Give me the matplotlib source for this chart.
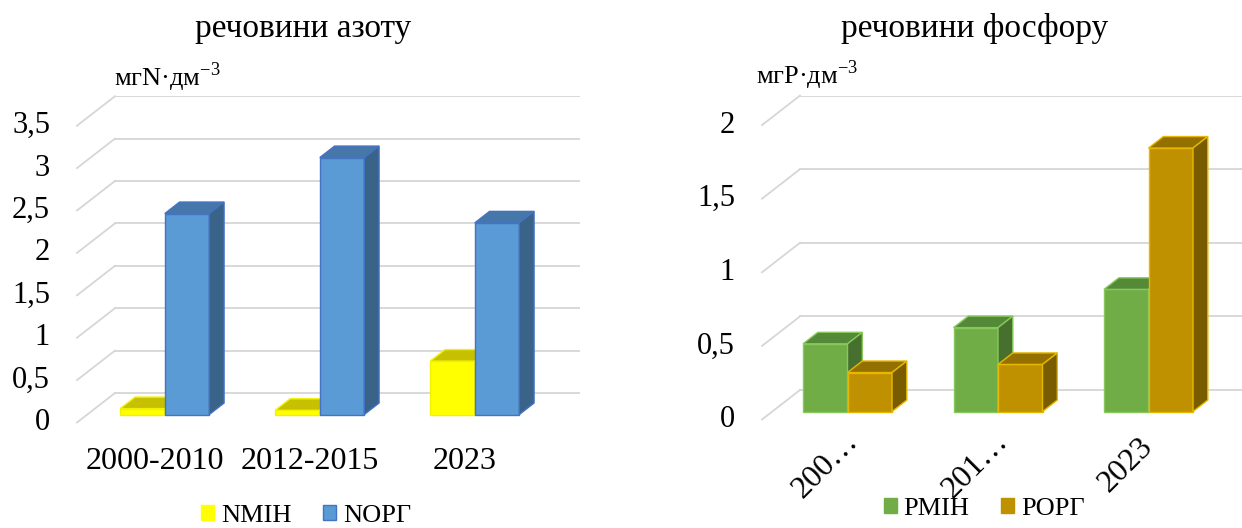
import matplotlib
matplotlib.use("Agg")
import matplotlib.pyplot as plt
from matplotlib.patches import Patch

plt.rcParams['font.family'] = ['Liberation Serif', 'DejaVu Serif']
plt.rcParams['mathtext.fontset'] = 'custom'
plt.rcParams['mathtext.rm'] = 'Liberation Serif'

#---- data
categories = ["2000-2010", "2012-2015", "2023"]
p_cat_labels = ["200…", "201…", "2023"]
n_min = [0.07, 0.05, 0.63]
n_org = [2.37, 3.03, 2.26]
p_min = [0.46, 0.57, 0.83]
p_org = [0.265, 0.32, 1.79]
n_ticks = [0, 0.5, 1, 1.5, 2, 2.5, 3, 3.5]
p_ticks = [0, 0.5, 1, 1.5, 2]

W, H = 1242, 528
fig = plt.figure(figsize=(W / 100, H / 100), dpi=100)

grid_color = "#d6d6d6"
f0 = 0.27   # depth position of bar front face
fb = 0.39   # bar depth

def fmt(v):
	s = ("%g" % v).replace(".", ",")
	return s

def drawChart(x0, y0, cw, sy, ticks, series, colors, catlabels, rotate):
	Dx = 38.0 / cw
	Dy = 29.5 / sy
	top = ticks[-1]
	xmax = min(3 + Dx, (W - x0) / cw)
	ymax = top + Dy
	ax = fig.add_axes([x0 / W, 1 - y0 / H, xmax * cw / W, ymax * sy / H])
	ax.set_xlim(0, xmax)
	ax.set_ylim(0, ymax)
	ax.axis("off")

	# back wall + floor side lines
	for v in ticks:
		ax.plot([Dx, Dx + 3], [v + Dy, v + Dy], color=grid_color, lw=1.3, zorder=1)
		ax.plot([0, Dx], [v, v + Dy], color=grid_color, lw=1.3, zorder=1, clip_on=False)
		ax.text(-27.0 / cw, v, fmt(v), ha="right", va="center", fontsize=22)

	bw = 44.5 / cw
	for j, (vals, (cf, ct, cs, ce)) in enumerate(zip(series, colors)):
		xs = [i + 0.5 - bw + j * bw + f0 * Dx for i in range(3)]
		yb = f0 * Dy
		ax.bar(xs, vals, width=bw, bottom=yb, align="edge", color=cf,
			edgecolor=ce, linewidth=1.0, zorder=2 + j)
		for xl, h in zip(xs, vals):
			yt = yb + h
			ax.fill([xl, xl + bw, xl + bw + fb * Dx, xl + fb * Dx],
				[yt, yt, yt + fb * Dy, yt + fb * Dy],
				facecolor=ct, edgecolor=ce, linewidth=1.0, zorder=2 + j)
			ax.fill([xl + bw, xl + bw + fb * Dx, xl + bw + fb * Dx, xl + bw],
				[yb, yb + fb * Dy, yt + fb * Dy, yt],
				facecolor=cs, edgecolor=ce, linewidth=1.0, zorder=2 + j)

	for i, lab in enumerate(catlabels):
		if rotate:
			ax.text(i + 0.5 - 12.0 / cw, -46.0 / sy, lab, rotation=45,
				rotation_mode="anchor", ha="center", va="center", fontsize=23)
		else:
			ax.text(i + 0.5, -39.0 / sy, lab, ha="center", va="center", fontsize=23)
	return ax

n_colors = [("#ffff00", "#c6c000", "#b0ad00", "#f2f200"),
	("#5b9bd5", "#4677a9", "#3a6389", "#4472c4")]
p_colors = [("#70ad47", "#548a37", "#47702f", "#86c85a"),
	("#bf9000", "#937000", "#7a5c00", "#e6b800")]

drawChart(77, 422.5, 155, 84.8, n_ticks, [n_min, n_org], n_colors, categories, False)
drawChart(762, 419.5, 150.5, 147.2, p_ticks, [p_min, p_org], p_colors, p_cat_labels, True)

fig.text(303 / W, 1 - 29 / H, "речовини азоту", ha="center", va="center", fontsize=24)
fig.text(975 / W, 1 - 29 / H, "речовини фосфору", ha="center", va="center", fontsize=24)
fig.text(114 / W, 1 - 77 / H, "мгN·дм$^{-3}$", ha="left", va="center", fontsize=19)
fig.text(756 / W, 1 - 75 / H, "мгP·дм$^{-3}$", ha="left", va="center", fontsize=19)

leg_font = dict(family="Liberation Serif", size=19)
fig.legend([Patch(facecolor=n_colors[0][0], edgecolor=n_colors[0][0]),
		Patch(facecolor=n_colors[1][0], edgecolor=n_colors[1][3])],
	["NМІН", "NОРГ"], loc="center", bbox_to_anchor=(306 / W, 1 - 516 / H),
	ncol=2, frameon=False, prop=leg_font, handlelength=0.5, handleheight=0.5,
	handletextpad=0.25, columnspacing=1.2, borderpad=0)
fig.legend([Patch(facecolor=p_colors[0][0], edgecolor=p_colors[0][0]),
		Patch(facecolor=p_colors[1][0], edgecolor=p_colors[1][0])],
	["PМІН", "PОРГ"], loc="center", bbox_to_anchor=(984 / W, 1 - 509 / H),
	ncol=2, frameon=False, prop=leg_font, handlelength=0.5, handleheight=0.5,
	handletextpad=0.25, columnspacing=1.2, borderpad=0)

fig.savefig("out.png", dpi=100)
